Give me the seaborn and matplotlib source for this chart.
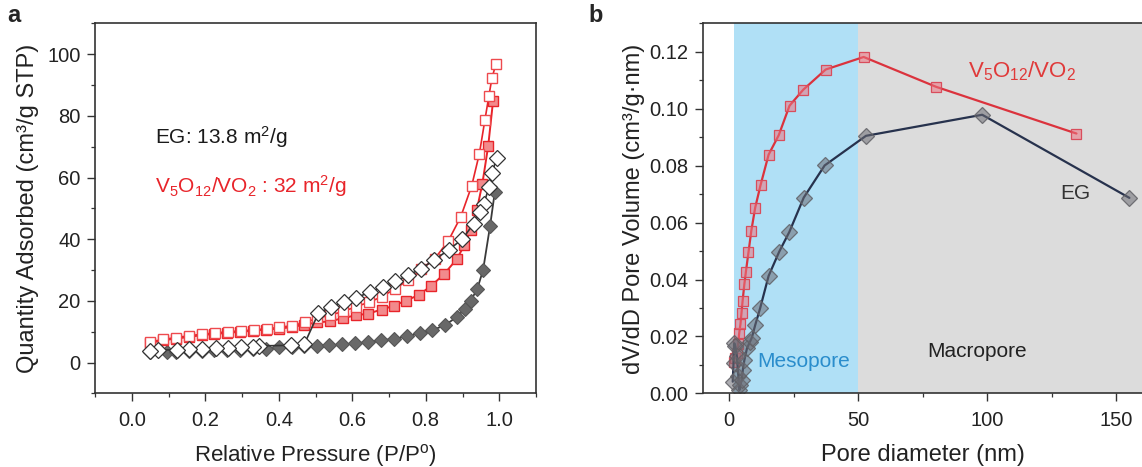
import matplotlib
matplotlib.use('Agg')
import matplotlib.pyplot as plt
import seaborn as sns
from matplotlib.ticker import MultipleLocator

# ---------------- Panel a: N2 isotherms ----------------
red_ads_p = [0.05, 0.085, 0.12, 0.155, 0.19, 0.225, 0.26, 0.295, 0.33, 0.365, 0.40, 0.435, 0.47,
             0.503, 0.54, 0.574, 0.609, 0.644, 0.680, 0.713, 0.746, 0.781, 0.815, 0.850, 0.884,
             0.905, 0.922, 0.939, 0.954, 0.970, 0.983]
red_ads_q = [6.4, 7.2, 7.8, 8.3, 8.9, 9.3, 9.6, 10.0, 10.3, 10.7, 11.0, 11.5, 12.3,
             13.0, 13.4, 14.4, 15.3, 15.9, 17.2, 18.4, 20.1, 21.9, 24.9, 28.7, 33.5,
             38.0, 43.0, 49.5, 58.0, 70.3, 84.7]

red_des_p = [0.991, 0.980, 0.972, 0.961, 0.946, 0.925, 0.895, 0.861, 0.824, 0.788, 0.753, 0.717,
             0.682, 0.646, 0.610, 0.576, 0.540, 0.505, 0.472, 0.437, 0.402, 0.368, 0.332, 0.297,
             0.261, 0.226, 0.191, 0.156, 0.121, 0.085, 0.051]
red_des_q = [96.9, 92.2, 86.6, 78.7, 67.8, 57.3, 47.2, 39.4, 33.6, 30.3, 26.8, 24.0,
             21.4, 19.6, 18.1, 16.6, 15.4, 14.4, 13.0, 12.0, 11.4, 11.0, 10.6, 10.3,
             10.0, 9.6, 9.2, 8.7, 8.1, 7.5, 6.7]

eg_ads_p = [0.05, 0.097, 0.12, 0.155, 0.19, 0.225, 0.26, 0.295, 0.33, 0.365, 0.40, 0.435, 0.470,
            0.503, 0.538, 0.573, 0.608, 0.644, 0.679, 0.714, 0.749, 0.783, 0.818, 0.852, 0.886,
            0.906, 0.922, 0.940, 0.956, 0.975, 0.988]
eg_ads_q = [3.3, 3.4, 3.5, 3.6, 3.8, 4.0, 4.1, 4.2, 4.3, 4.5, 4.9, 5.1, 5.3,
            5.4, 5.6, 5.9, 6.2, 6.7, 7.2, 7.7, 8.5, 9.5, 10.5, 12.1, 14.9,
            17.4, 20.0, 23.8, 30.0, 44.3, 55.4]

eg_des_p = [0.993, 0.981, 0.972, 0.958, 0.948, 0.930, 0.900, 0.862, 0.823, 0.788, 0.752, 0.716,
            0.683, 0.648, 0.611, 0.577, 0.542, 0.508, 0.470, 0.434, 0.347, 0.329, 0.298, 0.262,
            0.228, 0.192, 0.157, 0.122, 0.072, 0.049]
eg_des_q = [66.5, 61.6, 56.8, 51.5, 48.9, 45.0, 40.1, 36.5, 33.3, 30.5, 28.3, 26.3,
            24.6, 22.8, 21.1, 19.5, 18.1, 16.0, 6.1, 5.6, 5.4, 5.2, 5.0, 4.7,
            4.7, 4.4, 4.4, 4.1, 4.1, 3.9]

# ---------------- Panel b: pore size distribution ----------------
red_d = [1.7, 2.4, 3.0, 3.5, 3.9, 4.4, 4.8, 5.2, 5.9, 6.5, 7.5, 8.6, 10.1, 12.2, 15.3, 19.2,
         23.4, 28.7, 37.4, 52.1, 80.2, 134.5]
red_v = [0.0110, 0.0125, 0.0141, 0.0175, 0.0211, 0.0244, 0.0284, 0.0323, 0.0384, 0.0428, 0.0496,
         0.0572, 0.0653, 0.0733, 0.0839, 0.0907, 0.1011, 0.1067, 0.1138, 0.1182, 0.1077, 0.0913]

eg_d = [1.4, 1.7, 2.0, 2.4, 3.0, 3.6, 4.0, 4.3, 4.9, 5.3, 5.9, 6.9, 8.1, 8.8, 10.1, 12.0, 15.3,
        19.4, 23.3, 28.9, 37.0, 53.0, 98.0, 155.0]
eg_v = [0.0041, 0.0108, 0.0176, 0.0165, 0.0130, 0.0060, 0.0012, 0.0030, 0.0047, 0.0082, 0.0117,
        0.0158, 0.0182, 0.0196, 0.0240, 0.0299, 0.0413, 0.0498, 0.0567, 0.0688, 0.0801, 0.0905,
        0.0979, 0.0687]

meso_range = (2, 50)
macro_range = (50, 160)

# ---------------- Style ----------------
sns.set_theme(style='ticks')
plt.rcParams['font.family'] = ['Liberation Sans', 'DejaVu Sans']
plt.rcParams['mathtext.fontset'] = 'custom'
plt.rcParams['mathtext.rm'] = 'Liberation Sans'
plt.rcParams['mathtext.it'] = 'Liberation Sans:italic'
plt.rcParams['mathtext.bf'] = 'Liberation Sans:bold'

W, H = 1142, 467
fig = plt.figure(figsize=(W / 100, H / 100), dpi=100)
fig.patch.set_facecolor('white')
ax1 = fig.add_axes([95 / W, 1 - 393.4 / H, 441 / W, 370 / H])
ax2 = fig.add_axes([703.3 / W, 1 - 393.4 / H, 439 / W, 370 / H])

TICK_FS = 14.5
LABEL_FS = 17
dark = '#222222'


def series(ax, x, y, **kw):
    sns.lineplot(x=x, y=y, ax=ax, sort=False, estimator=None, legend=False, **kw)


# Panel a
series(ax1, eg_ads_p, eg_ads_q, color='#3a3a3a', linewidth=1.3, marker='D', markersize=7.5,
       markerfacecolor='#686868', markeredgecolor='#555555', markeredgewidth=0.8)
series(ax1, red_ads_p, red_ads_q, color='#e8242a', linewidth=1.4, marker='s', markersize=7,
       markerfacecolor='#f28a8c', markeredgecolor='#e8242a', markeredgewidth=1.0)
series(ax1, red_des_p, red_des_q, color='#e8242a', linewidth=1.2, marker='s', markersize=7,
       markerfacecolor='white', markeredgecolor='#ee4a4e', markeredgewidth=1.0)
series(ax1, eg_des_p, eg_des_q, color='#333333', linewidth=1.2, marker='D', markersize=8,
       markerfacecolor='white', markeredgecolor='#333333', markeredgewidth=0.9)

ax1.set_xlim(-0.1, 1.1)
ax1.set_ylim(-10, 110)
ax1.xaxis.set_major_locator(MultipleLocator(0.2))
ax1.xaxis.set_minor_locator(MultipleLocator(0.1))
ax1.yaxis.set_major_locator(MultipleLocator(20))
ax1.yaxis.set_minor_locator(MultipleLocator(10))
ax1.set_xticks([0.0, 0.2, 0.4, 0.6, 0.8, 1.0])
ax1.set_xticklabels(['0.0', '0.2', '0.4', '0.6', '0.8', '1.0'])
ax1.set_yticks([0, 20, 40, 60, 80, 100])
ax1.set_xlabel(r'Relative Pressure (P/P$^{\mathrm{o}}$)', fontsize=16, color=dark)
ax1.set_ylabel('Quantity Adsorbed (cm³/g STP)', fontsize=LABEL_FS, color=dark)
ax1.xaxis.set_label_coords(0.5, -0.132)
ax1.yaxis.set_label_coords(-0.128, 0.5)
ax1.text(0.064, 73.2, r'EG: 13.8 m$^2$/g', fontsize=15, color='#1a1a1a', va='center', ha='left')
ax1.text(0.064, 57.1, r'V$_5$O$_{12}$/VO$_2$ : 32 m$^2$/g', fontsize=15, color='#e8242a',
         va='center', ha='left')

# Panel b
ax2.axvspan(*meso_range, color='#b0e0f6', zorder=0, linewidth=0)
ax2.axvspan(*macro_range, color='#dcdcdc', zorder=0, linewidth=0)
series(ax2, red_d, red_v, color=(0.86, 0.2, 0.24), linewidth=1.6, marker='s', markersize=7,
       markerfacecolor=(0.93, 0.45, 0.5, 0.55), markeredgecolor=(0.85, 0.3, 0.36),
       markeredgewidth=0.9)
series(ax2, eg_d, eg_v, color='#27324d', linewidth=1.6, marker='D', markersize=8,
       markerfacecolor=(0.42, 0.42, 0.45, 0.55), markeredgecolor=(0.38, 0.38, 0.4, 0.85),
       markeredgewidth=0.9)

ax2.set_xlim(-10, 160)
ax2.set_ylim(0, 0.13)
ax2.set_xticks([0, 50, 100, 150])
ax2.xaxis.set_minor_locator(MultipleLocator(25))
ax2.set_yticks([0.0, 0.02, 0.04, 0.06, 0.08, 0.10, 0.12])
ax2.set_yticklabels(['0.00', '0.02', '0.04', '0.06', '0.08', '0.10', '0.12'])
ax2.yaxis.set_minor_locator(MultipleLocator(0.01))
ax2.set_xlabel('Pore diameter (nm)', fontsize=LABEL_FS, color=dark)
ax2.set_ylabel('dV/dD Pore Volume (cm³/g·nm)', fontsize=LABEL_FS, color=dark)
ax2.xaxis.set_label_coords(0.5, -0.138)
ax2.yaxis.set_label_coords(-0.133, 0.5)
ax2.spines['right'].set_visible(False)
ax2.text(10.9, 0.0111, 'Mesopore', fontsize=15, color='#2a8dcc', va='center', ha='left')
ax2.text(76.7, 0.0146, 'Macropore', fontsize=15, color='#222222', va='center', ha='left')
ax2.text(128.3, 0.0704, 'EG', fontsize=15, color='#333333', va='center', ha='left')
ax2.text(92.6, 0.1132, r'V$_5$O$_{12}$/VO$_2$', fontsize=16, color='#e03a3a', va='center',
         ha='left')

for ax in (ax1, ax2):
    for s in ax.spines.values():
        s.set_color('#333333')
        s.set_linewidth(1.2)
    ax.tick_params(which='major', direction='out', length=5.5, width=1.0, color='#333333',
                   labelsize=TICK_FS, labelcolor=dark, pad=5, top=False, right=False)
    ax.tick_params(which='minor', direction='out', length=3, width=0.9, color='#333333',
                   top=False, right=False)
    ax.tick_params(axis='x', which='major', pad=7)
    ax.grid(False)

fig.text(14 / W, 1 - 16 / H, 'a', fontsize=17, fontweight='bold', va='center', ha='center')
fig.text(596 / W, 1 - 16 / H, 'b', fontsize=17, fontweight='bold', va='center', ha='center')

fig.savefig('out.png', dpi=100, facecolor='white')
